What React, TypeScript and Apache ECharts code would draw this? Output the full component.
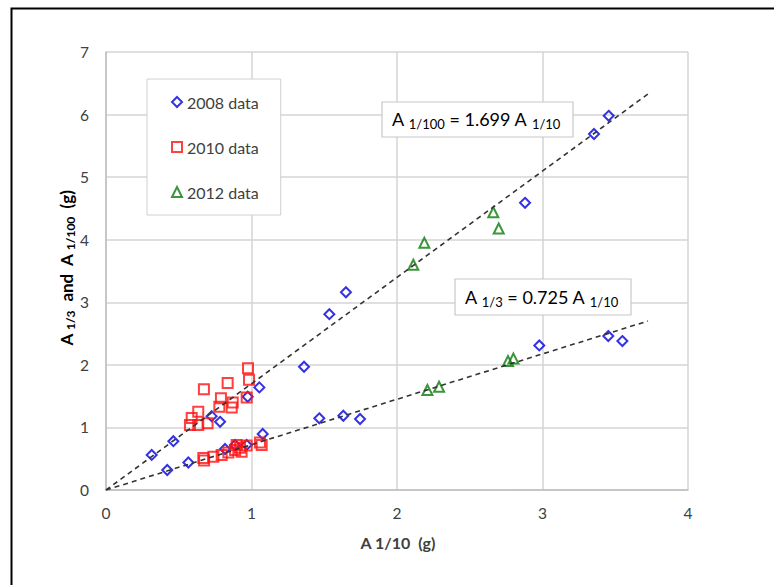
import React, { useEffect, useRef } from "react";
import * as echarts from "echarts";

// ---- data (x = A 1/10 in g, y = A 1/100 (upper) or A 1/3 (lower) in g)
const data2008Upper: number[][] = [
  [0.314, 0.56], [0.463, 0.78], [0.726, 1.18], [0.784, 1.09], [0.974, 1.49], [1.054, 1.64],
  [1.361, 1.97], [1.535, 2.81], [1.649, 3.16], [2.88, 4.59], [3.354, 5.69], [3.455, 5.98],
];
const data2008Lower: number[][] = [
  [0.421, 0.32], [0.566, 0.44], [0.818, 0.655], [0.887, 0.72], [0.967, 0.72], [1.077, 0.895],
  [1.466, 1.146], [1.631, 1.187], [1.746, 1.135], [2.978, 2.31], [3.452, 2.46], [3.549, 2.38],
];
const data2010Upper: number[][] = [
  [0.976, 1.945], [0.983, 1.76], [0.836, 1.71], [0.673, 1.61], [0.79, 1.465], [0.871, 1.4],
  [0.864, 1.32], [0.779, 1.33], [0.634, 1.25], [0.589, 1.15], [0.577, 1.04], [0.634, 1.04],
  [0.698, 1.065], [0.967, 1.48],
];
const data2010Lower: number[][] = [
  [0.674, 0.47], [0.669, 0.51], [0.738, 0.53], [0.795, 0.56], [0.841, 0.6], [0.887, 0.64],
  [0.921, 0.675], [0.967, 0.71], [0.898, 0.72], [1.058, 0.76], [1.07, 0.72], [0.932, 0.61],
];
const data2012Upper: number[][] = [[2.112, 3.6], [2.188, 3.95], [2.662, 4.44], [2.699, 4.18]];
const data2012Lower: number[][] = [[2.209, 1.598], [2.289, 1.65], [2.763, 2.06], [2.8, 2.1]];

const seriesNames = ["2008 data", "2010 data", "2012 data"];
const fitSlopes = [1.699, 0.725];
const fitXMax = 3.725;
const xTicks = { min: 0, max: 4, interval: 1 };
const yTicks = { min: 0, max: 7, interval: 1 };

const FONT = "Lato";
const TXT = "#404040";
const BLUE = "#0000dd";
const RED = "#ff1010";
const GREEN = "#0a7a0a";

export default function App() {
  const ref = useRef<HTMLDivElement>(null);
  useEffect(() => {
    if (!ref.current) return;
    const chart = echarts.init(ref.current, undefined, { renderer: "svg" });

    const hollow = (c: string) => ({ color: "rgba(0,0,0,0)", borderColor: c, borderWidth: 2 });
    const richSub = {
      n: { fontSize: 18, fontFamily: FONT, color: TXT, lineHeight: 24 },
      s: { fontSize: 13, fontFamily: FONT, color: TXT, lineHeight: 13, padding: [9, 0, 0, 0] },
    };
    const richAxis = {
      n: { fontSize: 17, fontFamily: FONT, fontWeight: "bold", color: TXT, lineHeight: 22 },
      s: { fontSize: 12, fontFamily: FONT, fontWeight: "bold", color: TXT, lineHeight: 12, padding: [8, 0, 0, 0] },
    };

    const fitLines = fitSlopes.map((k) => ({
      type: "line",
      data: [[0, 0], [fitXMax, k * fitXMax]],
      symbol: "none",
      silent: true,
      z: 5,
      lineStyle: { color: "#333", width: 1.6, type: [5, 4] },
    }));

    chart.setOption({
      animation: false,
      backgroundColor: "#fff",
      grid: { left: 106, top: 52, width: 582, height: 438 },
      xAxis: {
        type: "value",
        ...xTicks,
        axisLine: { show: true, lineStyle: { color: "#bfbfbf", width: 1.5 } },
        axisTick: { show: false },
        axisLabel: { fontSize: 15.5, fontFamily: FONT, color: TXT, margin: 15 },
        splitLine: { show: true, lineStyle: { color: "#d4d4d4", width: 1.5 } },
      },
      yAxis: {
        type: "value",
        ...yTicks,
        axisLine: { show: true, lineStyle: { color: "#bfbfbf", width: 1.5 } },
        axisTick: { show: false },
        axisLabel: { fontSize: 15.5, fontFamily: FONT, color: TXT, margin: 17 },
        splitLine: { show: true, lineStyle: { color: "#d4d4d4", width: 1.5 } },
      },
      legend: {
        orient: "vertical",
        left: 147,
        top: 79,
        padding: [15, 22, 15, 24],
        itemGap: 29,
        itemWidth: 10,
        itemHeight: 10,
        backgroundColor: "#fff",
        borderColor: "#d0d0d0",
        borderWidth: 1,
        textStyle: { fontSize: 16, fontFamily: FONT, color: TXT },
        data: [
          { name: seriesNames[0], icon: "diamond", itemStyle: hollow(BLUE) },
          { name: seriesNames[1], icon: "rect", itemStyle: hollow(RED) },
          { name: seriesNames[2], icon: "triangle", itemStyle: hollow(GREEN) },
        ],
      },
      series: [
        {
          name: seriesNames[0], type: "scatter", symbol: "diamond", symbolSize: 10,
          itemStyle: hollow(BLUE), data: [...data2008Upper, ...data2008Lower], z: 3,
        },
        {
          name: seriesNames[1], type: "scatter", symbol: "rect", symbolSize: 10,
          itemStyle: hollow(RED), data: [...data2010Upper, ...data2010Lower], z: 3,
        },
        {
          name: seriesNames[2], type: "scatter", symbol: "triangle", symbolSize: 10,
          itemStyle: hollow(GREEN), data: [...data2012Upper, ...data2012Lower], z: 3,
        },
        ...fitLines,
      ],
      graphic: [
        {
          type: "rect", left: 9, top: 6, z: -1, silent: true,
          shape: { width: 900, height: 700 },
          style: { fill: "none", stroke: "#000", lineWidth: 2 },
        },
        {
          type: "rect", x: 382, y: 102, z: 20,
          shape: { width: 191, height: 35 },
          style: { fill: "#fff", stroke: "#c8c8c8", lineWidth: 1.2 },
        },
        {
          type: "text", x: 392, y: 119, z: 21,
          style: {
            text: "{n|A }{s|1/100}{n| = 1.699 A }{s|1/10}",
            rich: richSub, align: "left", verticalAlign: "middle",
          },
        },
        {
          type: "rect", x: 455, y: 279, z: 20,
          shape: { width: 176, height: 36 },
          style: { fill: "#fff", stroke: "#c8c8c8", lineWidth: 1.2 },
        },
        {
          type: "text", x: 465, y: 297, z: 21,
          style: {
            text: "{n|A }{s|1/3}{n| = 0.725 A }{s|1/10}",
            rich: richSub, align: "left", verticalAlign: "middle",
          },
        },
        {
          type: "text", x: 398, y: 542, z: 21,
          style: {
            text: "A 1/10  (g)", fontSize: 16, fontWeight: "bold", fontFamily: FONT,
            fill: TXT, align: "center", verticalAlign: "middle",
          },
        },
        {
          type: "text", x: 66, y: 268, z: 21, rotation: Math.PI / 2,
          style: {
            text: "{n|A }{s|1/3}{n|  and  A }{s|1/100}{n|  (g)}",
            rich: richAxis, align: "center", verticalAlign: "middle",
          },
        },
      ],
    });
    return () => chart.dispose();
  }, []);
  return (
    <div
      ref={ref}
      style={{ position: "fixed", left: 0, top: 0, width: 774, height: 585 }}
    />
  );
}
